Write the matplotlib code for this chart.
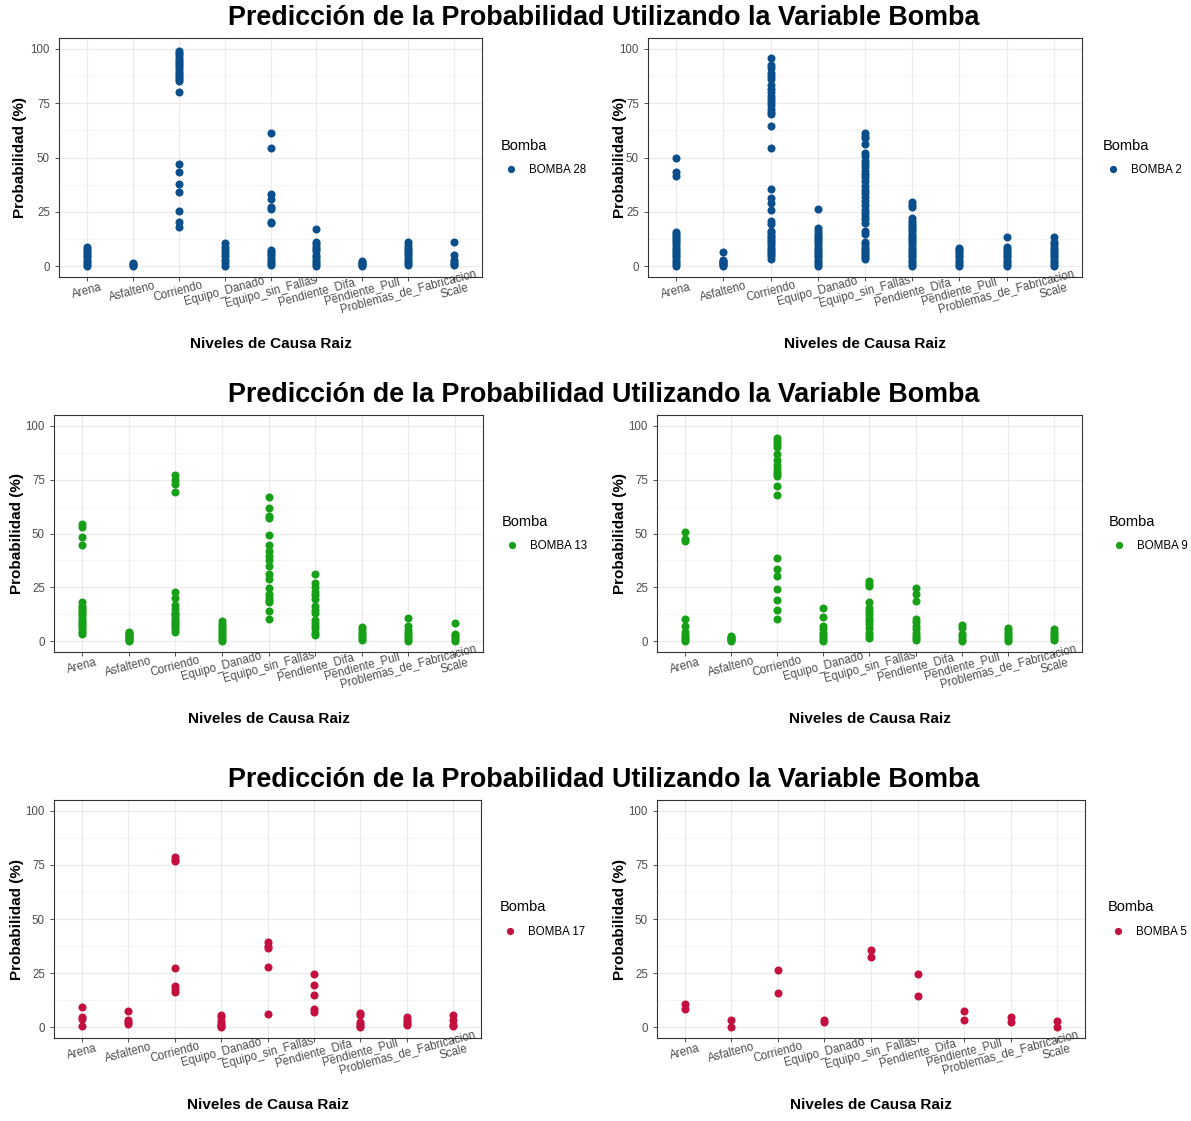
import matplotlib
matplotlib.use("Agg")
import matplotlib.pyplot as plt

plt.rcParams['font.family'] = ['Liberation Sans', 'DejaVu Sans']

causas = ["Arena", "Asfalteno", "Corriendo", "Equipo_Danado", "Equipo_sin_Fallas",
          "Pendiente_Difa", "Pendiente_Pull", "Problemas_de_Fabricacion", "Scale"]
titulo = "Predicción de la Probabilidad Utilizando la Variable Bomba"

# probabilities (%) per root cause, in the order of `causas`
bomba28 = [
    [0, 1, 2, 3, 4, 5, 6, 7, 8, 8.6],
    [0, 0.5, 1, 1.5],
    [18.2, 20.2, 25.2, 34.3, 37.7, 43.2, 46.9, 80.2, 85.3, 86, 87, 88, 89, 90, 91, 92,
     93, 94, 95, 96, 97, 98, 98.8],
    [0, 1.5, 3, 4.5, 6, 7.5, 9, 10.8],
    [0.5, 1.5, 2.5, 3.5, 4.5, 5.5, 6.5, 7.5, 19.8, 20.5, 26.5, 27.2, 30.9, 33.2, 54.5, 61.3],
    [0, 1, 2, 3, 4, 5, 7, 8, 9, 10, 11.3, 17.1],
    [0, 0.5, 1, 1.5, 2, 2.5],
    [0.5, 1.5, 2.5, 3.5, 4.5, 5.5, 6.5, 7.5, 8.5, 9.5, 11],
    [0.5, 1, 2, 3, 5.1, 11],
]
bomba2 = [
    [0, 1, 2, 3, 4, 5, 6, 7, 8, 9, 10, 11, 12, 13, 14, 15, 15.6, 41.4, 43.4, 50],
    [0, 0.5, 1, 1.5, 2, 2.5, 3, 6.6],
    [3.5, 4.5, 5.5, 6.5, 7.5, 8.5, 9.5, 10.5, 11.5, 12.5, 13.5, 14.5, 15.5, 16, 19.5, 21,
     26, 29, 31.5, 35.6, 54.5, 64.5, 69.9, 71, 72.5, 74, 75.5, 77, 78.5, 80, 81.5, 83.5,
     86, 87.5, 89, 91, 92.6, 95.7],
    [0, 1, 2, 3, 4, 5, 6, 7, 8, 9, 10, 11, 12, 13, 14, 15, 16, 17.4, 26.2],
    [3.1, 4, 5, 6, 7, 8, 9, 10, 11, 15, 16, 20, 21.5, 23, 24.5, 26, 28, 30, 32, 33.5, 35,
     37, 39, 41, 42.5, 44, 45.5, 47, 48.5, 50.5, 52, 56, 59, 60, 61.4],
    [0, 1, 2, 3, 4, 5, 6, 7, 8, 9, 10, 11, 12, 13, 14, 15, 16, 17, 18, 19, 20, 21, 22,
     27, 28, 29.5],
    [0, 1, 2, 3, 4, 5, 6, 7, 8, 8.5],
    [0, 1, 2, 3, 4, 5, 6, 7, 8, 9, 13.6],
    [0, 1, 2, 3, 4, 5, 6, 7, 8, 9, 10, 11, 13.6],
]
bomba13 = [
    [3.4, 4.5, 5.5, 6.5, 7.5, 8.5, 9.5, 10.5, 11.5, 12.5, 13.5, 14.5, 15.5, 16.5, 18.1,
     44.5, 48.2, 52.9, 54.6],
    [0, 0.5, 1, 1.5, 2, 2.5, 3, 3.5, 4, 4.5],
    [4.5, 5.5, 6.5, 7.5, 8.5, 9.5, 10.5, 11.5, 12.5, 13, 15, 17, 20, 22.7, 69.4, 73, 74.8, 77.3],
    [0, 1, 2, 3, 4, 5, 6, 7, 8, 9.5],
    [10.5, 14, 18, 19, 20.5, 22, 24.5, 29, 31, 35, 37.5, 39.5, 42, 44.5, 49.3, 57, 58, 61.7, 66.9],
    [3, 4, 5.5, 7, 8.5, 10, 13, 14.5, 16.5, 19.5, 21.5, 23, 25, 27, 31.2],
    [0.5, 1.5, 2.5, 3.5, 4.5, 5.5, 6.5],
    [0, 1, 2, 3, 4, 5, 7, 10.7],
    [0, 1, 2, 3, 3.5, 8.3],
]
bomba9 = [
    [0, 1, 2, 3, 4.5, 7, 10.4, 46.4, 47.4, 50.8],
    [0, 0.5, 1, 1.5, 2, 2.5],
    [10.5, 14.7, 19.2, 24.1, 30.1, 33.5, 38.8, 67.7, 72, 76.8, 77.5, 78.5, 80, 82, 84,
     86.9, 90, 91.5, 93, 94.3],
    [0, 1, 2, 3, 4, 5.5, 7, 11.4, 15.6],
    [1.5, 2.5, 4, 6, 8, 9.5, 11, 12.5, 14, 15.5, 18.4, 25.5, 26.5, 28],
    [0.5, 1.5, 2.5, 4, 5.5, 7, 9, 10.5, 18.7, 22, 24.9],
    [0, 1, 2.5, 3.5, 6, 7.4],
    [0, 1, 2, 3, 4, 5, 6],
    [0.5, 1.5, 2.5, 3.5, 4.5, 5.5],
]
bomba17 = [
    [0.5, 4, 4.9, 9.4],
    [1.5, 2.5, 3.5, 7.7],
    [16.4, 17.5, 19, 27.5, 76.7, 77.5, 78.7],
    [0, 0.5, 1, 2, 3, 4.5, 5.5],
    [6.3, 27.9, 36.6, 37.5, 39.4],
    [7, 8.2, 14.8, 19.6, 24.8],
    [0, 0.5, 1.5, 2.5, 5.5, 6.5],
    [1, 1.5, 2.5, 3.5, 4.5],
    [0.5, 1, 3.5, 5.7],
]
bomba5 = [
    [8.5, 10.5], [0, 3.4], [15.7, 26.2], [2.5, 3.5], [32.4, 35.8],
    [14.5, 24.4], [3.5, 7.4], [2.3, 4.5], [0.3, 2.9],
]

W, H = 1191, 1121
fig = plt.figure(figsize=(W / 100, H / 100), dpi=100)


def px_axes(l, r, t, b):
    return fig.add_axes([l / W, 1 - b / H, (r - l) / W, (b - t) / H])


def panel(box, datos, nombre, color, ylab_px, leg_px):
    l, r, t, b = box
    ax = px_axes(l, r, t, b)
    for i, vals in enumerate(datos):
        ax.plot([i + 1] * len(vals), vals, 'o', color=color, ms=5.8, mec='none',
                label=nombre if i == 0 else None)
    ax.set_xlim(0.4, len(causas) + 0.6)
    ax.set_ylim(-5, 105)
    ax.set_xticks(range(1, len(causas) + 1))
    ax.set_xticklabels(causas, rotation=15, ha='center', va='center',
                       rotation_mode='anchor')
    ax.set_yticks([0, 25, 50, 75, 100])
    ax.set_yticks([12.5, 37.5, 62.5, 87.5], minor=True)
    ax.grid(True, which='major', color='#EBEBEB', lw=0.9)
    ax.grid(True, which='minor', axis='y', color='#F2F2F2', lw=0.5)
    ax.set_axisbelow(True)
    ax.tick_params(axis='both', which='major', colors='#333333', labelcolor='#4D4D4D',
                   labelsize=8.3, length=3, width=0.6)
    ax.tick_params(axis='x', pad=7.5)
    ax.tick_params(which='minor', length=0)
    for s in ax.spines.values():
        s.set_color('#333333')
        s.set_linewidth(0.8)
    ax.set_ylabel("Probabilidad (%)", fontsize=11, fontweight='bold')
    ax.yaxis.set_label_coords((ylab_px - l) / (r - l), 0.5)
    ax.yaxis.label.set_va('center')
    ax.set_xlabel("Niveles de Causa Raiz", fontsize=11, fontweight='bold')
    ax.xaxis.set_label_coords(0.5, -67 / (b - t))
    ax.xaxis.label.set_va('center')
    leg = ax.legend(title="Bomba", loc='center left', frameon=False,
                    bbox_to_anchor=((leg_px - l) / (r - l), 0.5),
                    borderaxespad=0, borderpad=0, handletextpad=0.6,
                    handlelength=1.8, labelspacing=1.0, fontsize=8.3,
                    title_fontsize=10.5, markerscale=0.9)
    leg._legend_box.align = 'left'
    return ax


azul = '#0A4F8C'
verde = '#17A017'
rojo = '#C4103F'

panel((59, 482, 38, 277), bomba28, "BOMBA 28", azul, 20, 501)
panel((648, 1082, 38, 277), bomba2, "BOMBA 2", azul, 620, 1103)
panel((54, 483, 415, 652), bomba13, "BOMBA 13", verde, 17, 502)
panel((657, 1082, 415, 652), bomba9, "BOMBA 9", verde, 620, 1109)
panel((54, 481, 800, 1038), bomba17, "BOMBA 17", rojo, 17, 500)
panel((657, 1085, 800, 1038), bomba5, "BOMBA 5", rojo, 620, 1108)

for ty in (18, 395, 780):
    fig.text(604 / W, 1 - ty / H, titulo, ha='center', va='center',
             fontsize=19.4, fontweight='bold')

fig.savefig("out.png", dpi=100, facecolor='white')
